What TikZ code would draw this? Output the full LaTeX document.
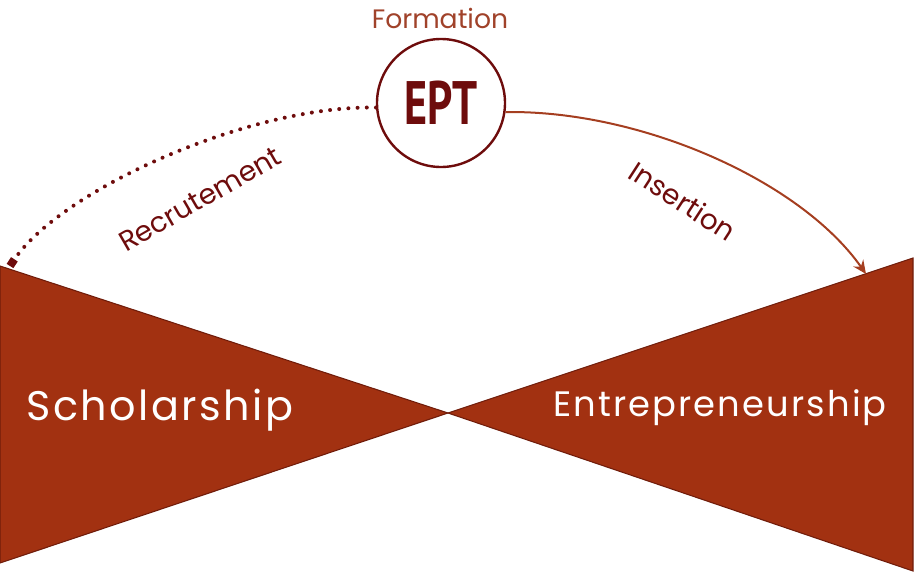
\documentclass[tikz,border=0pt]{standalone}
\usepackage{fontspec}
\setmainfont{Poppins}
\newfontfamily\eptfont{PT Sans}
\newfontfamily\widefont[LetterSpace=6]{Poppins}
\usetikzlibrary{arrows.meta}

\definecolor{brick}{RGB}{162,49,17}
\definecolor{brickdark}{RGB}{112,28,10}
\definecolor{maroon}{RGB}{110,12,12}
\definecolor{rust}{RGB}{165,62,32}
\definecolor{clay}{RGB}{160,66,42}

\begin{document}
\begin{tikzpicture}[x=0.75pt, y=-0.75pt,
    wedge/.style={fill=brick, draw=brickdark, line width=0.8pt, line join=miter},
    flowlabel/.style={text=maroon, font=\fontsize{21}{24}\selectfont}]
  \useasboundingbox (0,0) rectangle (915,572);

  % the two wedges meeting in the middle
  \coordinate (mid) at (448,413);
  \draw[wedge] (0,266) -- (mid) -- (0,563) -- cycle;
  \draw[wedge] (913,258) -- (mid) -- (913,571) -- cycle;
  \node (schol) at (160,410) {\widefont\color{white}\fontsize{31}{36}\selectfont Scholarship};
  \node (entre) at (720,408) {\widefont\color{white}\fontsize{26.5}{30}\selectfont Entrepreneurship};

  % school at the top
  \node (ept) [circle, draw=maroon, line width=1.8pt, minimum size=96pt, inner sep=0pt]
    at (441,103) {\eptfont\bfseries\color{maroon}\scalebox{0.72}[1]{\fontsize{46}{50}\selectfont EPT}};
  \node (form) [text=clay, font=\fontsize{20}{24}\selectfont] at (440,18) {Formation};

  \coordinate (rin) at (10,266);
  \coordinate (rout) at (866,274);
  \draw[maroon, line width=3pt, line cap=round, dash pattern=on 0pt off 6.9pt, -{Square[length=6pt,width=6pt]}]
    (ept.184) .. controls (250,105) and (60,190) .. (rin);
  \draw[rust, line width=1.5pt, -{Stealth[length=10pt,width=9pt]}]
    (ept.-8) .. controls (640,110) and (800,180) .. (rout);

  \node (recr) [flowlabel, rotate=30] at (200,199) {Recrutement};
  \node (ins) [flowlabel, rotate=-33] at (683,201) {Insertion};
\end{tikzpicture}
\end{document}
